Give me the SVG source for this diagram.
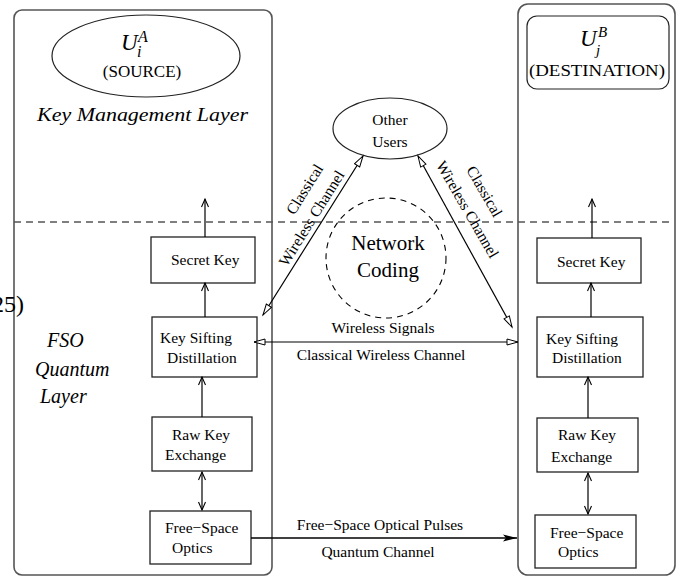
<svg xmlns="http://www.w3.org/2000/svg" width="686" height="578" viewBox="0 0 686 578" font-family="'Liberation Serif', 'DejaVu Serif', serif">
<style>
text{font-family:'Liberation Serif','DejaVu Serif',serif;fill:#000}
.n{font-size:15.5px}
.l{font-size:15.5px}
.it{font-style:italic}
.box{fill:#fff;stroke:#222;stroke-width:1.3}
.big{fill:none;stroke:#555;stroke-width:1.6}
.c{stroke:#000;stroke-width:1.2;fill:none}
</style>
<defs>
<marker id="vee" markerUnits="userSpaceOnUse" markerWidth="12" markerHeight="10" refX="9" refY="4" orient="auto-start-reverse"><path d="M1,0.5 L9,4 L1,7.5" fill="none" stroke="#000" stroke-width="1.1"/></marker>
<marker id="tri" markerUnits="userSpaceOnUse" markerWidth="14" markerHeight="10" refX="12" refY="4" orient="auto-start-reverse"><path d="M1,1 L12,4 L1,7 Z" fill="#fff" stroke="#000" stroke-width="1"/></marker>
<marker id="fill" markerUnits="userSpaceOnUse" markerWidth="16" markerHeight="10" refX="14" refY="4" orient="auto"><path d="M0,0.5 L14,4 L0,7.5 L3,4 Z" fill="#000"/></marker>
</defs>

<g id="source-panel">
<rect class="big" x="14" y="10" width="258" height="565" rx="8"/>
</g>
<g id="destination-panel">
<rect class="big" x="518" y="4" width="157" height="571" rx="10"/>
</g>

<line x1="14" y1="222" x2="673" y2="222" stroke="#555" stroke-width="1.4" stroke-dasharray="7,5"/>

<text x="24" y="312" font-size="24" text-anchor="end">25)</text>

<g id="source">
<ellipse cx="146" cy="56" rx="94" ry="41" fill="none" stroke="#222" stroke-width="1.2"/>
<text x="121" y="50" font-size="23" class="it">U</text>
<text x="138" y="42" font-size="16" class="it">A</text>
<text x="137" y="57" font-size="16" class="it">i</text>
<text x="142" y="77" font-size="17" text-anchor="middle">(SOURCE)</text>
</g>

<g id="destination">
<rect x="527" y="16" width="142" height="73" rx="10" fill="none" stroke="#222" stroke-width="1.2"/>
<text x="580" y="46" font-size="23" class="it">U</text>
<text x="598" y="37" font-size="15" class="it">B</text>
<text x="596" y="55" font-size="15" class="it">j</text>
<text x="597" y="76" font-size="17" text-anchor="middle" textLength="136" lengthAdjust="spacingAndGlyphs">(DESTINATION)</text>
</g>

<g id="key-management-label">
<text x="37" y="121" font-size="18" class="it" textLength="211" lengthAdjust="spacingAndGlyphs">Key Management Layer</text>
</g>

<g id="fso-label">
<text x="47" y="347" font-size="20" class="it">FSO</text>
<text x="35" y="376" font-size="20" class="it">Quantum</text>
<text x="40" y="403" font-size="20" class="it">Layer</text>
</g>

<g id="other-users">
<ellipse cx="390" cy="128.5" rx="57" ry="30.5" fill="#fff" stroke="#222" stroke-width="1.2"/>
<text class="n" x="390" y="125" text-anchor="middle">Other</text>
<text class="n" x="390" y="147" text-anchor="middle">Users</text>
</g>

<g id="network-coding">
<circle cx="386" cy="258" r="60" fill="none" stroke="#000" stroke-width="1.1" stroke-dasharray="6,5"/>
<text x="388" y="250" font-size="21" text-anchor="middle">Network</text>
<text x="388" y="277" font-size="21" text-anchor="middle">Coding</text>
</g>

<g id="a-secret-key">
<rect class="box" x="151" y="237" width="104" height="46"/>
<text class="n" x="171" y="265">Secret Key</text>
</g>
<g id="a-key-sifting">
<rect class="box" x="152" y="317" width="105" height="60"/>
<text class="n" x="160" y="343">Key Sifting</text>
<text class="n" x="167" y="363">Distillation</text>
</g>
<g id="a-raw-key">
<rect class="box" x="152" y="417" width="100" height="54"/>
<text class="n" x="172" y="440">Raw Key</text>
<text class="n" x="165" y="460">Exchange</text>
</g>
<g id="a-fso">
<rect class="box" x="150" y="511" width="101" height="53"/>
<text class="n" x="165" y="533">Free−Space</text>
<text class="n" x="172" y="553">Optics</text>
</g>

<g id="b-secret-key">
<rect class="box" x="537" y="238" width="104" height="45"/>
<text class="n" x="557" y="267">Secret Key</text>
</g>
<g id="b-key-sifting">
<rect class="box" x="537" y="317" width="106" height="60"/>
<text class="n" x="546" y="344">Key Sifting</text>
<text class="n" x="552" y="363">Distillation</text>
</g>
<g id="b-raw-key">
<rect class="box" x="537" y="418" width="101" height="54"/>
<text class="n" x="558" y="440">Raw Key</text>
<text class="n" x="551" y="462">Exchange</text>
</g>
<g id="b-fso">
<rect class="box" x="535" y="515" width="101" height="53"/>
<text class="n" x="550" y="538">Free−Space</text>
<text class="n" x="558" y="557">Optics</text>
</g>

<g id="connectors">
<line class="c" x1="205" y1="237" x2="205" y2="199" marker-end="url(#vee)"/>
<line class="c" x1="205" y1="317" x2="205" y2="283" marker-end="url(#vee)"/>
<line class="c" x1="202" y1="417" x2="202" y2="377" marker-end="url(#vee)"/>
<line class="c" x1="202" y1="472" x2="202" y2="510" marker-start="url(#vee)" marker-end="url(#vee)"/>

<line class="c" x1="592" y1="238" x2="592" y2="199" marker-end="url(#vee)"/>
<line class="c" x1="591" y1="317" x2="591" y2="283" marker-end="url(#vee)"/>
<line class="c" x1="588" y1="418" x2="588" y2="377" marker-end="url(#vee)"/>
<line class="c" x1="588" y1="473" x2="588" y2="514" marker-start="url(#vee)" marker-end="url(#vee)"/>

<line class="c" x1="254" y1="342" x2="518" y2="342" marker-start="url(#tri)" marker-end="url(#tri)"/>
<line class="c" x1="263" y1="315" x2="363" y2="156" marker-start="url(#tri)" marker-end="url(#tri)"/>
<line class="c" x1="418" y1="156" x2="512" y2="327" marker-start="url(#tri)" marker-end="url(#tri)"/>
<line x1="251" y1="538" x2="517" y2="538" stroke="#000" stroke-width="1.6" marker-end="url(#fill)"/>

<text class="l" x="383" y="333" text-anchor="middle">Wireless Signals</text>
<text class="l" x="381" y="360" text-anchor="middle">Classical Wireless Channel</text>
<text class="l" x="380" y="530" text-anchor="middle">Free−Space Optical Pulses</text>
<text class="l" x="378" y="557" text-anchor="middle">Quantum Channel</text>

<text class="l" text-anchor="middle" transform="translate(309,192) rotate(-58)">Classical</text>
<text class="l" text-anchor="middle" transform="translate(316,221) rotate(-58)">Wireless Channel</text>
<text class="l" text-anchor="middle" transform="translate(480,194) rotate(60)">Classical</text>
<text class="l" text-anchor="middle" transform="translate(463,212) rotate(60)">Wireless Channel</text>
</g>
</svg>
